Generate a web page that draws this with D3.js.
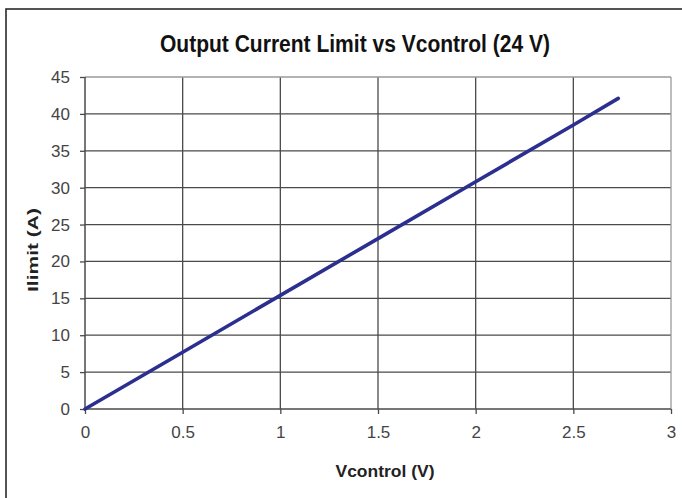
<!DOCTYPE html>
<html>
<head>
<meta charset="utf-8">
<script src="https://cdn.jsdelivr.net/npm/d3@7"></script>
<style>
  html, body { margin: 0; padding: 0; background: #fff; }
  svg { display: block; }
</style>
</head>
<body>
<svg id="chart" width="682" height="498"></svg>
<script>
// Measured current limit against control voltage at 24 V supply
const vcontrol = [0, 0.5, 1, 1.5, 2, 2.5, 2.73];
const ilimit   = [0, 7.7, 15.4, 23.1, 30.8, 38.5, 42.1];
const xTicks = [0, 0.5, 1, 1.5, 2, 2.5, 3];
const yTicks = [0, 5, 10, 15, 20, 25, 30, 35, 40, 45];

const svg = d3.select("#chart");
const W = 682, H = 498;
const m = { left: 85, right: 11, top: 77, bottom: 89 };

// outer frame
svg.append("rect")
  .attr("x", 6).attr("y", 9).attr("width", W + 10).attr("height", H + 10)
  .attr("fill", "#fff").attr("stroke", "#2a2a2a").attr("stroke-width", 1.6);

const x = d3.scaleLinear().domain([0, 3]).range([m.left, W - m.right]);
const y = d3.scaleLinear().domain([0, 45]).range([H - m.bottom, m.top]);

// title
svg.append("text")
  .attr("x", 355).attr("y", 52)
  .attr("text-anchor", "middle")
  .attr("font-family", "'Liberation Sans Narrow', 'Liberation Sans', Arial, sans-serif")
  .attr("font-weight", "bold").attr("font-size", 23)
  .attr("fill", "#111")
  .attr("textLength", 390).attr("lengthAdjust", "spacingAndGlyphs")
  .text("Output Current Limit vs Vcontrol (24 V)");

// grid
const g = svg.append("g");
g.selectAll("line.h").data(yTicks.slice(1, -1)).join("line")
  .attr("x1", x(0)).attr("x2", x(3))
  .attr("y1", d => y(d)).attr("y2", d => y(d))
  .attr("stroke", "#4a4a4a").attr("stroke-width", 1.3);
g.selectAll("line.v").data(xTicks.slice(1, -1)).join("line")
  .attr("y1", y(0)).attr("y2", y(45))
  .attr("x1", d => x(d)).attr("x2", d => x(d))
  .attr("stroke", "#4a4a4a").attr("stroke-width", 1.3);
// top and right plot borders, lighter
g.append("line").attr("x1", x(0)).attr("x2", x(3)).attr("y1", y(45)).attr("y2", y(45))
  .attr("stroke", "#9a9a9a").attr("stroke-width", 1.3);
g.append("line").attr("x1", x(3)).attr("x2", x(3)).attr("y1", y(45)).attr("y2", y(0))
  .attr("stroke", "#9a9a9a").attr("stroke-width", 1.3);

// axes
const tickFont = "'Liberation Sans', Arial, sans-serif";
const xAxis = svg.append("g")
  .attr("transform", `translate(0,${y(0)})`)
  .call(d3.axisBottom(x).tickValues(xTicks).tickFormat(d3.format("")).tickSize(5).tickPadding(12));
const yAxis = svg.append("g")
  .attr("transform", `translate(${x(0)},0)`)
  .call(d3.axisLeft(y).tickValues(yTicks).tickSize(5).tickPadding(10));
[xAxis, yAxis].forEach(a => {
  a.select(".domain").attr("stroke", "#4a4a4a").attr("stroke-width", 1.5);
  a.selectAll(".tick line").attr("stroke", "#4a4a4a").attr("stroke-width", 1.3);
  a.selectAll(".tick text")
    .attr("font-family", tickFont).attr("font-size", 17).attr("fill", "#444");
});
xAxis.select(".domain").attr("d", `M${x(0)},0H${x(3)}`);
yAxis.select(".domain").attr("d", `M0,${y(0)}V${y(45)}`);

// data line
const pts = vcontrol.map((v, i) => [v, ilimit[i]]);
svg.append("path")
  .datum(pts)
  .attr("fill", "none")
  .attr("stroke", "#2b2f8f").attr("stroke-width", 3.6)
  .attr("stroke-linecap", "round")
  .attr("d", d3.line().x(d => x(d[0])).y(d => y(d[1])));

// axis titles
svg.append("text")
  .attr("x", 385).attr("y", 477)
  .attr("text-anchor", "middle")
  .attr("font-family", tickFont).attr("font-weight", "bold").attr("font-size", 16)
  .attr("fill", "#222")
  .attr("textLength", 99).attr("lengthAdjust", "spacingAndGlyphs")
  .text("Vcontrol (V)");
svg.append("text")
  .attr("transform", "translate(38,250) rotate(-90)")
  .attr("text-anchor", "middle")
  .attr("font-family", tickFont).attr("font-weight", "bold").attr("font-size", 14)
  .attr("fill", "#222")
  .attr("textLength", 84).attr("lengthAdjust", "spacingAndGlyphs")
  .text("Ilimit (A)");
</script>
</body>
</html>
